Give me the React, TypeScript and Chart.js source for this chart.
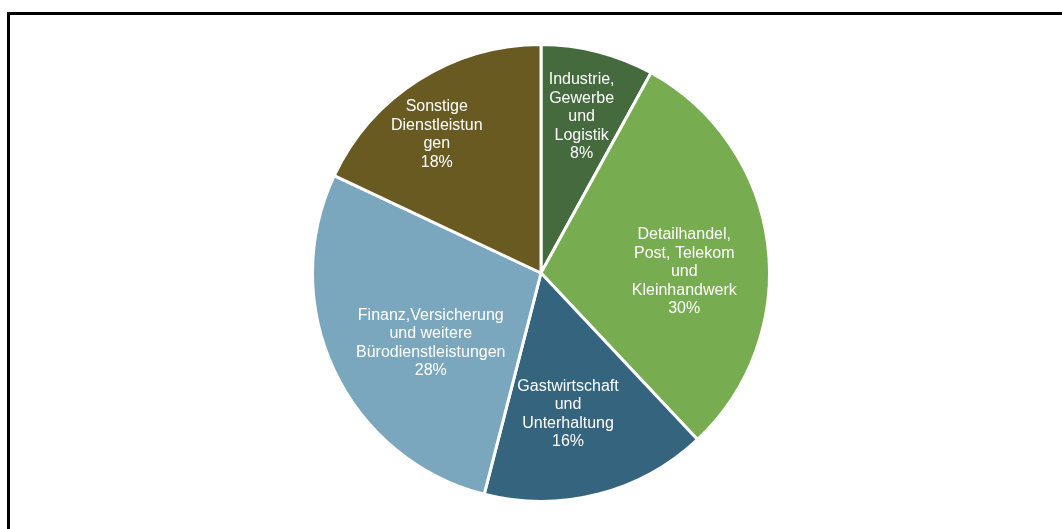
import React, { useEffect, useRef } from "react";
import { Chart, registerables } from "chart.js";

Chart.register(...registerables);

const categories: string[][] = [
  ["Industrie,", "Gewerbe", "und", "Logistik"],
  ["Detailhandel,", "Post, Telekom", "und", "Kleinhandwerk"],
  ["Gastwirtschaft", "und", "Unterhaltung"],
  ["Finanz,Versicherung", "und weitere", "Bürodienstleistungen"],
  ["Sonstige", "Dienstleistun", "gen"],
];
const shares: number[] = [8, 30, 16, 28, 18];
const colors: string[] = ["#446A3D", "#77AC50", "#34647E", "#7BA7BE", "#695A22"];
// label placement: [angle shift in degrees, fraction of radius]
const labelPlacement: number[][] = [
  [0, 0.715],
  [6, 0.627],
  [3.4, 0.62],
  [-6.5, 0.567],
  [-4.2, 0.765],
];

const labelPlugin = {
  id: "sliceLabels",
  afterDatasetsDraw(chart: any) {
    const ctx = chart.ctx;
    const meta = chart.getDatasetMeta(0);
    ctx.save();
    ctx.fillStyle = "#ffffff";
    ctx.font = '16px "Liberation Sans", Arial, sans-serif';
    ctx.textAlign = "center";
    ctx.textBaseline = "middle";
    const lh = 18.5;
    meta.data.forEach((arc: any, i: number) => {
      const p = arc.getProps(["x", "y", "startAngle", "endAngle", "outerRadius"], true);
      const mid = (p.startAngle + p.endAngle) / 2 + (labelPlacement[i][0] * Math.PI) / 180;
      const r = p.outerRadius * labelPlacement[i][1];
      const cx = p.x + r * Math.cos(mid);
      const cy = p.y + r * Math.sin(mid) + 2;
      const lines = [...categories[i], shares[i] + "%"];
      const top = cy - ((lines.length - 1) * lh) / 2;
      lines.forEach((t, k) => ctx.fillText(t, cx, top + k * lh));
    });
    ctx.restore();
  },
};

export default function App() {
  const ref = useRef<HTMLCanvasElement | null>(null);
  useEffect(() => {
    if (!ref.current) return;
    const chart = new Chart(ref.current, {
      type: "pie",
      data: {
        labels: categories.map((c) => c.join(" ")),
        datasets: [
          {
            data: shares,
            backgroundColor: colors,
            borderColor: "#ffffff",
            borderWidth: 3,
          },
        ],
      },
      options: {
        responsive: false,
        animation: false,
        devicePixelRatio: 1,
        layout: { padding: { top: 43, bottom: 26, left: 20, right: 0 } },
        plugins: {
          legend: { display: false },
          tooltip: { enabled: false },
        },
      },
      plugins: [labelPlugin],
    });
    return () => chart.destroy();
  }, []);
  return (
    <div
      style={{
        position: "fixed",
        left: 0,
        top: 0,
        width: 1062,
        height: 529,
        overflow: "hidden",
        background: "#ffffff",
      }}
    >
      <div
        style={{
          position: "absolute",
          left: 7,
          top: 12,
          width: 1200,
          height: 700,
          border: "3px solid #000000",
          boxSizing: "border-box",
        }}
      />
      <canvas
        ref={ref}
        width={1062}
        height={529}
        style={{ position: "absolute", left: 0, top: 0, width: 1062, height: 529 }}
      />
    </div>
  );
}
